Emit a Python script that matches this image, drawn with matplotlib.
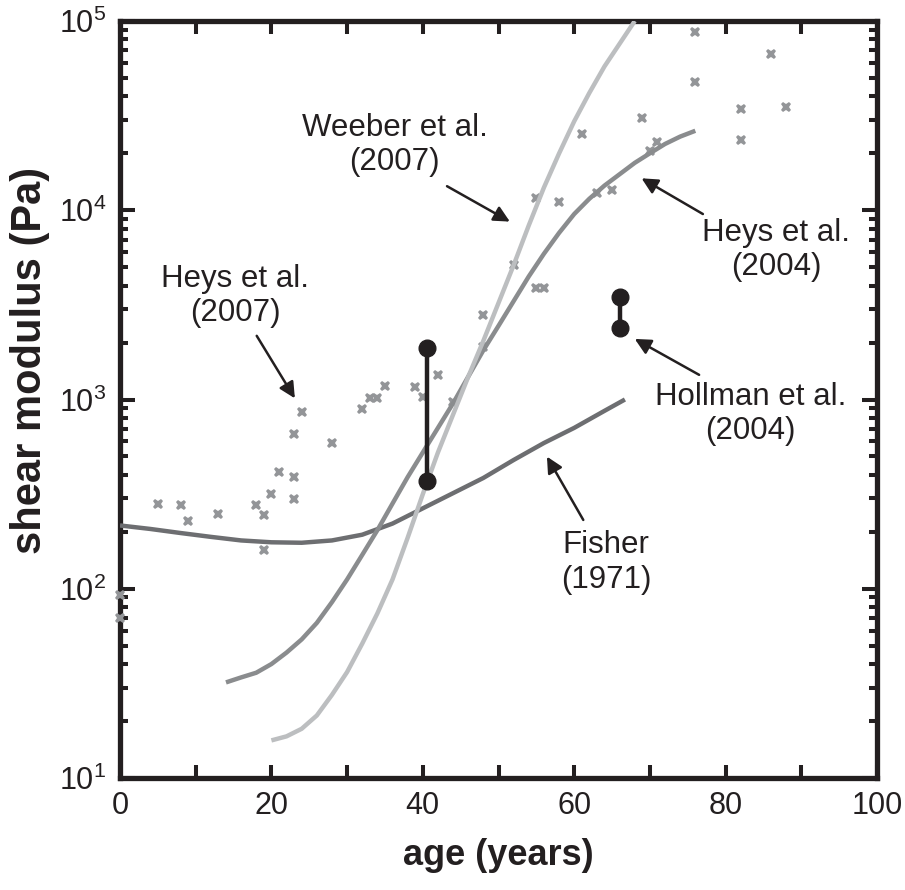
import matplotlib
matplotlib.use("Agg")
import matplotlib.pyplot as plt
from matplotlib.ticker import LogLocator, FixedLocator, NullFormatter

plt.rcParams['font.family'] = ['Liberation Sans', 'DejaVu Sans']
plt.rcParams['mathtext.fontset'] = 'custom'
plt.rcParams['mathtext.rm'] = 'Liberation Sans'
plt.rcParams['mathtext.it'] = 'Liberation Sans'

# ---- data ----
scatter_age = [0, 0, 5, 8, 9, 13, 18, 19, 19, 20, 21, 23, 23, 23, 24, 28, 32, 33, 34, 35,
               39, 40, 42, 44, 48, 48, 52, 55, 56, 55, 58, 61, 63, 65, 69, 70, 71,
               76, 76, 82, 82, 86, 88]
scatter_G = [93, 70, 280, 276, 229, 248, 277, 244, 160, 317, 412, 657, 391, 297, 862, 587, 887, 1020, 1015, 1178,
             1170, 1028, 1343, 967, 1900, 2800, 5140, 3870, 3870, 11650, 11000, 25400, 12400, 12800, 30800, 20600, 23000,
             87100, 47800, 34300, 23500, 67000, 35000]

weeber_age = [20, 22, 24, 26, 28, 30, 32, 34, 36, 38, 40, 42, 44, 46, 48, 50, 52, 54, 56, 58, 60, 62, 64, 66, 68]
weeber_G = [15.8, 16.6, 18.2, 21.4, 27.5, 36.3, 51.3, 74.1, 112, 186, 316, 525, 832, 1318, 2042, 3236,
            5129, 8318, 13183, 19953, 29512, 41687, 57544, 75858, 100000]

heys04_age = [14, 16, 18, 20, 22, 24, 26, 28, 30, 32, 34, 36, 38, 40, 42, 44, 46, 48, 50, 52, 54, 56,
              58, 60, 62, 64, 66, 68, 70, 72, 74, 76]
heys04_G = [32, 34, 36, 40, 46, 54, 66, 85, 112, 151, 204, 282, 389, 525, 708, 955, 1320, 1820, 2450,
            3310, 4470, 5890, 7590, 9550, 11500, 13500, 15500, 17800, 20000, 22400, 24500, 26300]

fisher_age = [0, 4, 8, 12, 16, 20, 24, 28, 32, 36, 40, 44, 48, 52, 56, 60, 64, 66.7]
fisher_G = [216, 207, 197, 188, 180, 176, 175, 180, 193, 221, 266, 320, 385, 479, 589, 708, 871, 1000]

hollman_age = [40.5, 66]
hollman_low = [370, 2390]
hollman_high = [1870, 3490]

x_ticklabels = ['0', '20', '40', '60', '80', '100']
y_exponents = [1, 2, 3, 4, 5]

# ---- colours ----
c_light = '#bcbec0'
c_mid = '#8a8c8e'
c_dark = '#6d6e71'
c_pts = '#939598'
c_black = '#231f20'

fig = plt.figure(figsize=(9.05, 8.9), dpi=100)
ax = fig.add_axes([120 / 905, 112 / 890, 757 / 905, 757 / 890])

ax.plot(scatter_age, scatter_G, linestyle='none', marker='X', ms=7.5, mew=0, color=c_pts,
        zorder=2.7, clip_on=False)
ax.plot(fisher_age, fisher_G, color=c_dark, lw=3.2, solid_capstyle='butt', solid_joinstyle='round', zorder=3)
ax.plot(heys04_age, heys04_G, color=c_mid, lw=3.2, solid_capstyle='butt', solid_joinstyle='round', zorder=3)
ax.plot(weeber_age, weeber_G, color=c_light, lw=3.2, solid_capstyle='butt', solid_joinstyle='round', zorder=3)
for a, lo, hi in zip(hollman_age, hollman_low, hollman_high):
    ax.plot([a, a], [lo, hi], color=c_black, lw=3.2, marker='o', ms=12, zorder=5)

ax.set_xlim(0, 100)
ax.set_yscale('log')
ax.set_ylim(10, 1e5)

ax.xaxis.set_major_locator(FixedLocator([0, 20, 40, 60, 80, 100]))
ax.xaxis.set_minor_locator(FixedLocator([10, 30, 50, 70, 90]))
ax.set_xticklabels(x_ticklabels)
ax.yaxis.set_major_locator(FixedLocator([10.0 ** e for e in y_exponents]))
ax.set_yticklabels([r'$\mathregular{10^{%d}}$' % e for e in y_exponents])
ax.yaxis.set_minor_locator(LogLocator(base=10, subs=range(2, 10)))
ax.yaxis.set_minor_formatter(NullFormatter())

ax.tick_params(which='both', direction='in', top=True, right=True, width=2.9, color=c_black,
               labelsize=22, labelcolor=c_black)
ax.tick_params(axis='x', which='both', length=9.5, pad=9)
ax.tick_params(axis='y', which='major', length=10.5, pad=10)
ax.tick_params(axis='y', which='minor', length=5.8)
for s in ax.spines.values():
    s.set_linewidth(3.8)
    s.set_color(c_black)

ax.set_xlabel('age (years)', fontsize=26, fontweight='bold', color=c_black)
ax.xaxis.set_label_coords(0.5, -0.102)
ax.xaxis.label.set_va('center')
ax.set_ylabel('shear modulus (Pa)', fontsize=30, fontweight='bold', color=c_black)
ax.yaxis.set_label_coords(-0.119, 0.552)
ax.yaxis.label.set_va('center')

arrow = dict(arrowstyle='-|>', lw=1.8, color=c_black, mutation_scale=24, shrinkA=0, shrinkB=0)
txt = dict(fontsize=22.5, color=c_black, ha='center', va='center', multialignment='center')

ax.annotate('', xy=(51.5, 8710), xytext=(43.2, 13400), arrowprops=arrow)
ax.text(36.3, 22100, 'Weeber et al.\n(2007)', **txt)

ax.annotate('', xy=(68.9, 14750), xytext=(77.0, 9550), arrowprops=arrow)
ax.text(86.7, 6170, 'Heys et al.\n(2004)', **txt)

ax.annotate('', xy=(68.0, 2090), xytext=(76.5, 1350), arrowprops=arrow)
ax.text(83.3, 838, 'Hollman et al.\n(2004)', **txt)

ax.annotate('', xy=(23.1, 1014), xytext=(18.06, 2170), arrowprops=arrow)
ax.text(15.2, 3520, 'Heys et al.\n(2007)', **txt)

ax.annotate('', xy=(56.4, 499), xytext=(61.2, 231), arrowprops=arrow)
ax.text(64.2, 138, 'Fisher\n(1971)', **txt)

fig.savefig('out.png', dpi=100)
